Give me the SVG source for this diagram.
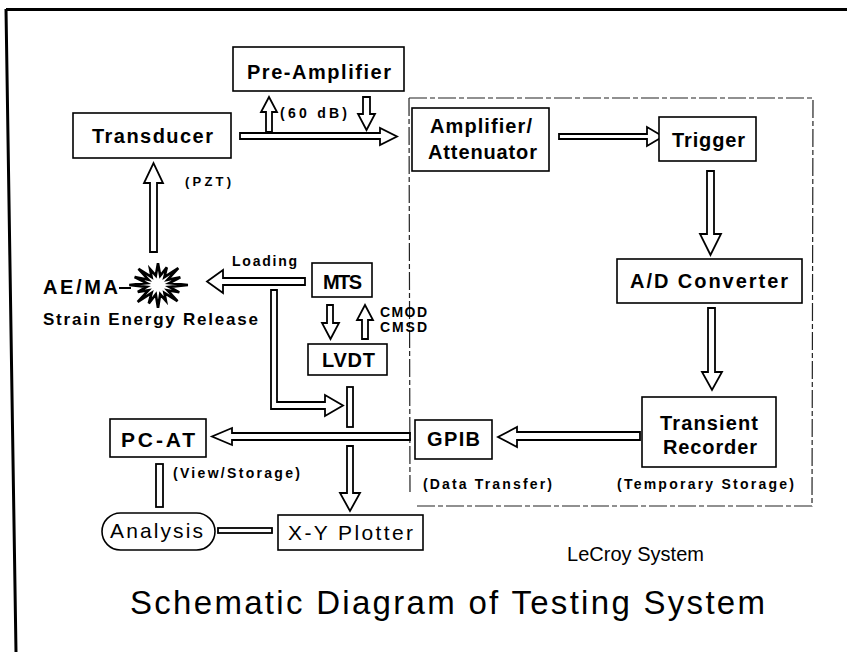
<svg xmlns="http://www.w3.org/2000/svg" width="847" height="652" viewBox="0 0 847 652">
  <style>
    .box { fill: #fff; stroke: #000; stroke-width: 1.6; }
    .arr { fill: #fff; stroke: #000; stroke-width: 1.8; stroke-linejoin: miter; }
    .lbl { font-family: "Liberation Sans", Arial, sans-serif; font-weight: bold; font-size: 20px; fill: #000; }
    .sm  { font-family: "Liberation Sans", Arial, sans-serif; font-weight: bold; font-size: 14px; fill: #000; }
    .reg { font-family: "Liberation Sans", Arial, sans-serif; font-size: 20px; fill: #000; }
    .frame { fill: none; stroke: #000; stroke-width: 3; }
    .sys { fill: none; stroke: #222; stroke-width: 1.2; stroke-dasharray: 18 3 5 3; }
  </style>
  <rect width="847" height="652" fill="#fff"/>

  <!-- page frame -->
  <path class="frame" d="M6,9.5 L847,9.5 M6,9 L16,652"/>

  <!-- LeCroy system outline -->
  <path class="sys" d="M409,98 L813,98 L812,506 L415,506 M409,98 L410,492"/>

  <!-- connectors -->
  <g id="connectors">
    <!-- Transducer -> Amplifier/Attenuator -->
    <polygon class="arr" points="240,133 380,133 380,128 397,136.5 380,145 380,139 240,139"/>
    <!-- Pre-Amplifier taps -->
    <polygon class="arr" points="266,132 266,112 261,112 269,97 277,112 272,112 272,132"/>
    <polygon class="arr" points="363,97 370,97 370,114 375,114 366.5,130 358,114 363,114"/>
    <!-- Amplifier -> Trigger -->
    <polygon class="arr" points="559,134 647,134 647,127 663,136.5 647,146 647,139 559,139"/>
    <!-- Trigger -> A/D -->
    <polygon class="arr" points="707,171 714,171 714,234 721,234 710.5,255 700,234 707,234"/>
    <!-- A/D -> Transient Recorder -->
    <polygon class="arr" points="708,308 715,308 715,372 722,372 712,390 702,372 708,372"/>
    <!-- Transient Recorder -> GPIB -->
    <polygon class="arr" points="640,432 517,432 517,427 498,437 517,447 517,440 640,440"/>
    <!-- GPIB -> PC-AT -->
    <polygon class="arr" points="410,433 232,433 232,428 212,436.5 232,445 232,440 410,440"/>
    <!-- to X-Y Plotter -->
    <polygon class="arr" points="347,446 353,446 353,493 360,493 350,511 340,493 347,493"/>
    <!-- AE/MA -> Transducer -->
    <polygon class="arr" points="150,252 150,183 144,183 153.5,163 163,183 157,183 157,252"/>
    <!-- Loading -->
    <polygon class="arr" points="305,278 223,278 223,270 207,281.5 223,293 223,285 305,285"/>
    <!-- MTS <-> LVDT -->
    <polygon class="arr" points="327,305 333,305 333,323 339,323 330.5,339 322,323 327,323"/>
    <polygon class="arr" points="362,339 362,320 357,320 365,305 373,320 368,320 368,339"/>
    <!-- loading signal branch -->
    <polygon class="arr" points="271,290 277,290 277,402 325,402 325,395 343,405.5 325,416 325,409 271,409"/>
    <!-- plain bars -->
    <rect class="arr" x="347" y="387" width="6" height="40"/>
    <rect class="arr" x="156" y="464" width="7" height="43"/>
    <rect class="arr" x="218" y="528" width="54" height="5"/>
    <line x1="119" y1="288" x2="131" y2="288" stroke="#000" stroke-width="2"/>
  </g>

  <!-- nodes -->
  <g id="preamp">
    <rect class="box" x="233" y="47" width="171" height="44"/>
    <text class="lbl" x="247" y="79" textLength="144" lengthAdjust="spacing">Pre-Amplifier</text>
  </g>
  <g id="transducer">
    <rect class="box" x="73" y="113" width="158" height="45"/>
    <text class="lbl" x="92" y="143" textLength="121" lengthAdjust="spacing">Transducer</text>
    <text class="sm" x="185" y="186" style="font-size:13px" textLength="46" lengthAdjust="spacing">(PZT)</text>
  </g>
  <text class="sm" x="280" y="118" textLength="67" lengthAdjust="spacing">(60 dB)</text>
  <g id="amplifier">
    <rect class="box" x="412" y="108" width="137" height="63"/>
    <text class="lbl" x="430" y="133" textLength="102" lengthAdjust="spacing">Amplifier/</text>
    <text class="lbl" x="428" y="159" textLength="109" lengthAdjust="spacing">Attenuator</text>
  </g>
  <g id="trigger">
    <rect class="box" x="659" y="117" width="97" height="44"/>
    <text class="lbl" x="672" y="147" textLength="73" lengthAdjust="spacing">Trigger</text>
  </g>
  <g id="adconv">
    <rect class="box" x="617" y="259" width="185" height="44"/>
    <text class="lbl" x="630" y="288" textLength="158" lengthAdjust="spacing">A/D Converter</text>
  </g>
  <g id="recorder">
    <rect class="box" x="642" y="397" width="134" height="70"/>
    <text class="lbl" x="660" y="430" textLength="98" lengthAdjust="spacing">Transient</text>
    <text class="lbl" x="663" y="454" textLength="94" lengthAdjust="spacing">Recorder</text>
    <text class="sm" x="617" y="489" textLength="177" lengthAdjust="spacing">(Temporary Storage)</text>
  </g>
  <g id="gpib">
    <rect class="box" x="415" y="420" width="77" height="39"/>
    <text class="lbl" x="427" y="446" textLength="53" lengthAdjust="spacing">GPIB</text>
    <text class="sm" x="423" y="489" textLength="129" lengthAdjust="spacing">(Data Transfer)</text>
  </g>
  <g id="pcat">
    <rect class="box" x="110" y="419" width="96" height="38"/>
    <text class="lbl" x="121" y="447" style="font-size:21px" textLength="74" lengthAdjust="spacing">PC-AT</text>
    <text class="sm" x="173" y="478" textLength="127" lengthAdjust="spacing">(View/Storage)</text>
  </g>
  <g id="mts">
    <rect class="box" x="312" y="263" width="60" height="34"/>
    <text class="lbl" x="323" y="289" textLength="39" lengthAdjust="spacing">MTS</text>
    <text class="sm" x="232" y="266" textLength="65" lengthAdjust="spacing">Loading</text>
    <text class="sm" x="380" y="317" textLength="47" lengthAdjust="spacing">CMOD</text>
    <text class="sm" x="380" y="332" textLength="47" lengthAdjust="spacing">CMSD</text>
  </g>
  <g id="lvdt">
    <rect class="box" x="308" y="344" width="79" height="31"/>
    <text class="lbl" x="322" y="367" textLength="53" lengthAdjust="spacing">LVDT</text>
  </g>
  <g id="aema">
    <polygon fill="#fff" stroke="#000" stroke-width="2.6" stroke-linejoin="miter"
      points="187.9,285 169.3,286.9 179.3,292.3 167.6,290.3 177.5,301.1 164.4,292.9 165.9,300.8 160.2,294.3 158,307.8 155.8,294.3 148.8,303.4 151.6,292.9 137.7,301.8 148.4,290.3 137.8,291.9 146.7,286.9 129.3,285 146.7,283.1 134.6,277 148.4,279.7 138.5,268.9 151.6,277.1 150.1,269.2 155.8,275.7 158,263.1 160.2,275.7 166.8,267.4 164.4,277.1 178.3,268.2 167.6,279.7 180.3,277.4 169.3,283.1"/>
    <text class="lbl" x="43" y="294" style="font-size:20px" textLength="75" lengthAdjust="spacing">AE/MA</text>
    <text class="lbl" x="43" y="325" style="font-size:17px" textLength="215" lengthAdjust="spacing">Strain Energy Release</text>
  </g>
  <g id="analysis">
    <rect class="box" x="102" y="513" width="113" height="37" rx="18.5" ry="18.5"/>
    <text class="reg" x="110" y="538" style="font-size:21px" textLength="93" lengthAdjust="spacing">Analysis</text>
  </g>
  <g id="plotter">
    <rect class="box" x="278" y="515" width="145" height="35"/>
    <text class="reg" x="288" y="540" style="font-size:21px" textLength="125" lengthAdjust="spacing">X-Y Plotter</text>
  </g>

  <text class="reg" x="567" y="561" style="font-size:20px" textLength="137" lengthAdjust="spacing">LeCroy System</text>
  <text class="reg" x="130" y="614" style="font-size:33px" textLength="635" lengthAdjust="spacing">Schematic Diagram of Testing System</text>
</svg>
